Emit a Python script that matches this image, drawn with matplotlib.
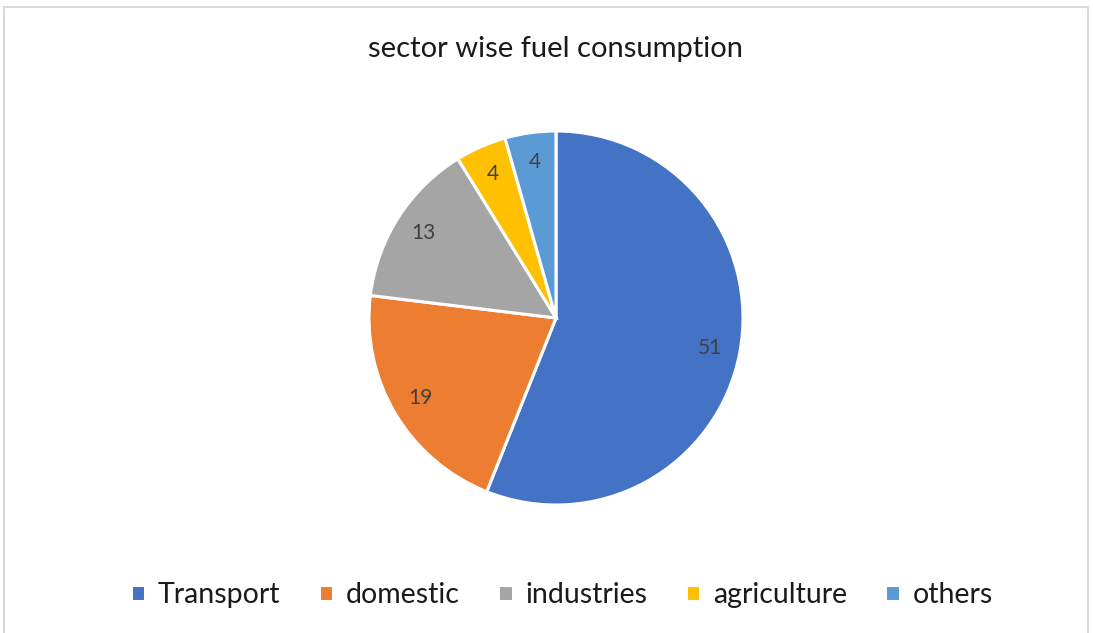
import matplotlib
matplotlib.use("Agg")
import matplotlib.pyplot as plt
from matplotlib.patches import Rectangle

SECTORS = ["Transport", "domestic", "industries", "agriculture", "others"]
VALUES = [51, 19, 13, 4, 4]
COLORS = ["#4472C4", "#ED7D31", "#A5A5A5", "#FFC000", "#5B9BD5"]

plt.rcParams["font.family"] = ["Lato", "DejaVu Sans"]

W, H = 1093, 633
fig = plt.figure(figsize=(W / 100, H / 100), dpi=100)
fig.patch.set_facecolor("white")

# light gray chart-area frame
fig.add_artist(Rectangle((4 / W, -0.01), (1088 - 4) / W, 1 - 7 / H + 0.01,
                         transform=fig.transFigure, fill=False,
                         edgecolor="#d9d9d9", lw=1.5))

cx, cy, r = 556, 318, 187
ax = fig.add_axes([(cx - r) / W, (H - cy - r) / H, 2 * r / W, 2 * r / H])
total = sum(VALUES)
wedges, _, autotexts = ax.pie(
    VALUES, colors=COLORS, startangle=90, counterclock=False,
    autopct=lambda p: f"{p * total / 100:.0f}", pctdistance=0.84,
    wedgeprops=dict(edgecolor="white", linewidth=2.2),
    textprops=dict(color="#404040", fontsize=15))
ax.set_xlim(-1, 1); ax.set_ylim(-1, 1)
ax.set_aspect("equal")

fig.text(0.508, 1 - 49 / H, "sector wise fuel consumption", ha="center", va="center",
         fontsize=21, color="#1a1a1a")

fig.legend(wedges, SECTORS, loc="center", bbox_to_anchor=(0.514, 1 - 595 / H),
           ncol=5, frameon=False, fontsize=20.5, handlelength=0.5, handleheight=0.5,
           handletextpad=0.45, columnspacing=1.35, labelcolor="#1a1a1a")

fig.savefig("out.png", dpi=100)
